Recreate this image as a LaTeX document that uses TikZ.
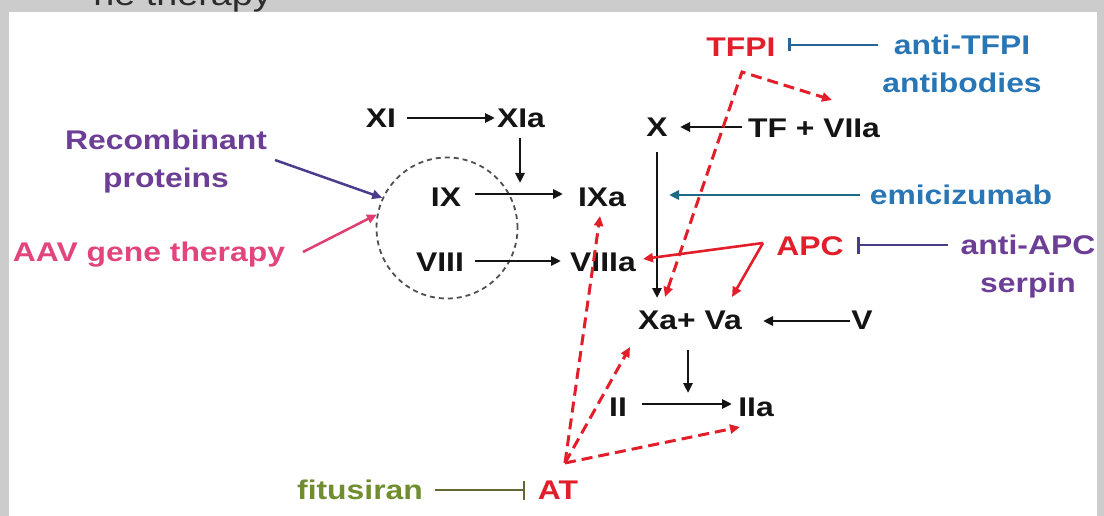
\documentclass[tikz,border=0pt]{standalone}
\usepackage{fontspec}
\setmainfont{Liberation Sans}[FakeStretch=1.18]
\usetikzlibrary{arrows.meta}
\definecolor{bggrey}{RGB}{204,204,204}
\definecolor{titlegrey}{RGB}{45,45,45}
\definecolor{ink}{RGB}{20,20,20}
\definecolor{cred}{RGB}{226,30,42}
\definecolor{cblue}{RGB}{40,118,182}
\definecolor{cpurple}{RGB}{108,62,150}
\definecolor{cpink}{RGB}{226,68,124}
\definecolor{cgreen}{RGB}{112,142,48}
\definecolor{lteal}{RGB}{30,105,135}
\definecolor{ltfpi}{RGB}{40,100,150}
\definecolor{lapc}{RGB}{72,60,132}
\definecolor{lpurple}{RGB}{76,60,142}
\definecolor{lpink}{RGB}{222,62,112}
\definecolor{lolive}{RGB}{100,104,52}
\definecolor{circgrey}{RGB}{80,80,80}
\begin{document}
\begin{tikzpicture}[x=1pt,y=-1pt,
  lbl/.style={font=\fontsize{27}{38}\selectfont\bfseries, inner sep=0pt, anchor=base, text=ink},
  mlbl/.style={font=\fontsize{27}{38}\selectfont\bfseries, inner sep=0pt, align=center},
  arr/.style={line width=2.5pt, draw=ink, -{Triangle[length=10pt,width=9pt]}},
  carr/.style={line width=2.5pt, -{Triangle[length=10pt,width=9pt]}},
  inhib/.style={line width=2.5pt, -{Bar[width=#1,line width=2.5pt]}},
  rdash/.style={line width=3pt, draw=cred, dash pattern=on 11pt off 6pt},
  rtip/.style={-{Triangle[length=10pt,width=9pt]}}
]
\useasboundingbox (0,0) rectangle (1104,516);
\fill[bggrey] (0,0) rectangle (1104,516);
\fill[white] (9,12) rectangle (1097,516);
\begin{scope}
  \clip (0,0) rectangle (1104,12);
  \node[inner sep=0pt, anchor=base east, text=titlegrey, font=\fontsize{32}{32}\selectfont] (title) at (272,6) {ne therapy};
\end{scope}

% factor nodes
\node[lbl] (XI) at (381,127.7) {XI};
\node[lbl] (XIa) at (521,127.7) {XIa};
\node[lbl] (IX) at (446,206.7) {IX};
\node[lbl] (IXa) at (602,206.7) {IXa};
\node[lbl] (VIII) at (440,271.7) {VIII};
\node[lbl] (VIIIa) at (603,271.7) {VIIIa};
\node[lbl] (X) at (657,136.7) {X};
\node[lbl] (TFVIIa) at (814,137.7) {TF + VIIa};
\node[lbl, text=cred] (TFPI) at (741,56.7) {TFPI};
\node[lbl, text=cblue] (emi) at (961,204.7) {emicizumab};
\node[lbl, text=cred] (APC) at (810,255.7) {APC};
\node[lbl] (XaVa) at (690,329.7) {Xa+ Va};
\node[lbl] (V) at (862,329.7) {V};
\node[lbl] (II) at (618,416.7) {II};
\node[lbl] (IIa) at (756,416.7) {IIa};
\node[lbl, text=cred] (AT) at (558,499.7) {AT};
\node[lbl, text=cgreen] (fitu) at (360,499.7) {fitusiran};
\node[lbl, text=cpink] (aav) at (149,261.7) {AAV gene therapy};
\node[mlbl, text=cpurple] (recomb) at (166,161.7) {Recombinant\\proteins};
\node[mlbl, text=cblue] (antiTFPI) at (962,63.9) {anti-TFPI\\antibodies};
\node[mlbl, text=cpurple] (antiAPC) at (1028,266.7) {anti-APC\\serpin};

% dashed circle grouping IX and VIII
\node[circle, draw=circgrey, line width=1.8pt, dash pattern=on 5pt off 4pt, minimum size=141pt, inner sep=0pt] (grp) at (447,228) {};

% connector end points
\coordinate (XIo) at (407,118);   \coordinate (XIai) at (495,118);
\coordinate (XIab) at (520,138);  \coordinate (IXarr) at (520,183);
\coordinate (IXo) at (475,194);   \coordinate (IXai) at (563,194);
\coordinate (VIIIo) at (475,261); \coordinate (VIIIai) at (561,261);
\coordinate (TFo) at (742,127);   \coordinate (Xi) at (680,127);
\coordinate (Xb) at (657,152);    \coordinate (XaVat) at (657,298);
\coordinate (Vo) at (850,321);    \coordinate (XaVar) at (763,321);
\coordinate (XaVab) at (688,350); \coordinate (IIarr) at (688,393);
\coordinate (IIo) at (642,404);   \coordinate (IIai) at (732,404);
\coordinate (emio) at (860,195);  \coordinate (emit) at (669,195);
\coordinate (APCv) at (763,243);  \coordinate (VIIIar) at (643,259);
\coordinate (Vat) at (732,297);
\coordinate (antiAPCo) at (948,245); \coordinate (APCr) at (857,245);
\coordinate (antiTFPIo) at (878,45); \coordinate (TFPIr) at (788,45);
\coordinate (fituo) at (435,490);  \coordinate (ATl) at (525,490);
\coordinate (TFPIc) at (742,72);   \coordinate (XaVatd) at (665,297);
\coordinate (TFVIIat) at (832,100);
\coordinate (ATa) at (565,463);    \coordinate (IXab) at (600,216);
\coordinate (XaVabl) at (630,347); \coordinate (IIabl) at (740,427);
\coordinate (recombo) at (275,160); \coordinate (aavo) at (303,252);

% black cascade arrows
\draw[arr] (XIo) -- (XIai);
\draw[arr] (XIab) -- (IXarr);
\draw[arr] (IXo) -- (IXai);
\draw[arr] (VIIIo) -- (VIIIai);
\draw[arr] (TFo) -- (Xi);
\draw[arr] (Xb) -- (XaVat);
\draw[arr] (Vo) -- (XaVar);
\draw[arr] (XaVab) -- (IIarr);
\draw[arr] (IIo) -- (IIai);

% therapies
\draw[carr, draw=lteal, color=lteal] (emio) -- (emit);
\draw[inhib=17pt, draw=lapc] (antiAPCo) -- (APCr);
\draw[inhib=13pt, draw=ltfpi] (antiTFPIo) -- (TFPIr);
\draw[inhib=19pt, draw=lolive] (fituo) -- (ATl);
\draw[carr, draw=lpurple, color=lpurple] (recombo) -- (grp.155);
\draw[carr, draw=lpink, color=lpink] (aavo) -- (grp.169.5);

% APC solid red arrows
\draw[carr, draw=cred, color=cred, line width=2.6pt] (APCv) -- (VIIIar);
\draw[carr, draw=cred, color=cred, line width=2.6pt] (APCv) -- (Vat);

% TFPI dashed
\draw[rdash, color=cred, {Triangle[length=10pt,width=9pt]}-{Triangle[length=10pt,width=9pt]}] (XaVatd) -- (TFPIc) -- (TFVIIat);

% AT dashed
\draw[rdash, color=cred, rtip] (ATa) -- (IXab);
\draw[rdash, color=cred, rtip] (ATa) -- (XaVabl);
\draw[rdash, color=cred, rtip] (ATa) -- (IIabl);
\end{tikzpicture}
\end{document}
